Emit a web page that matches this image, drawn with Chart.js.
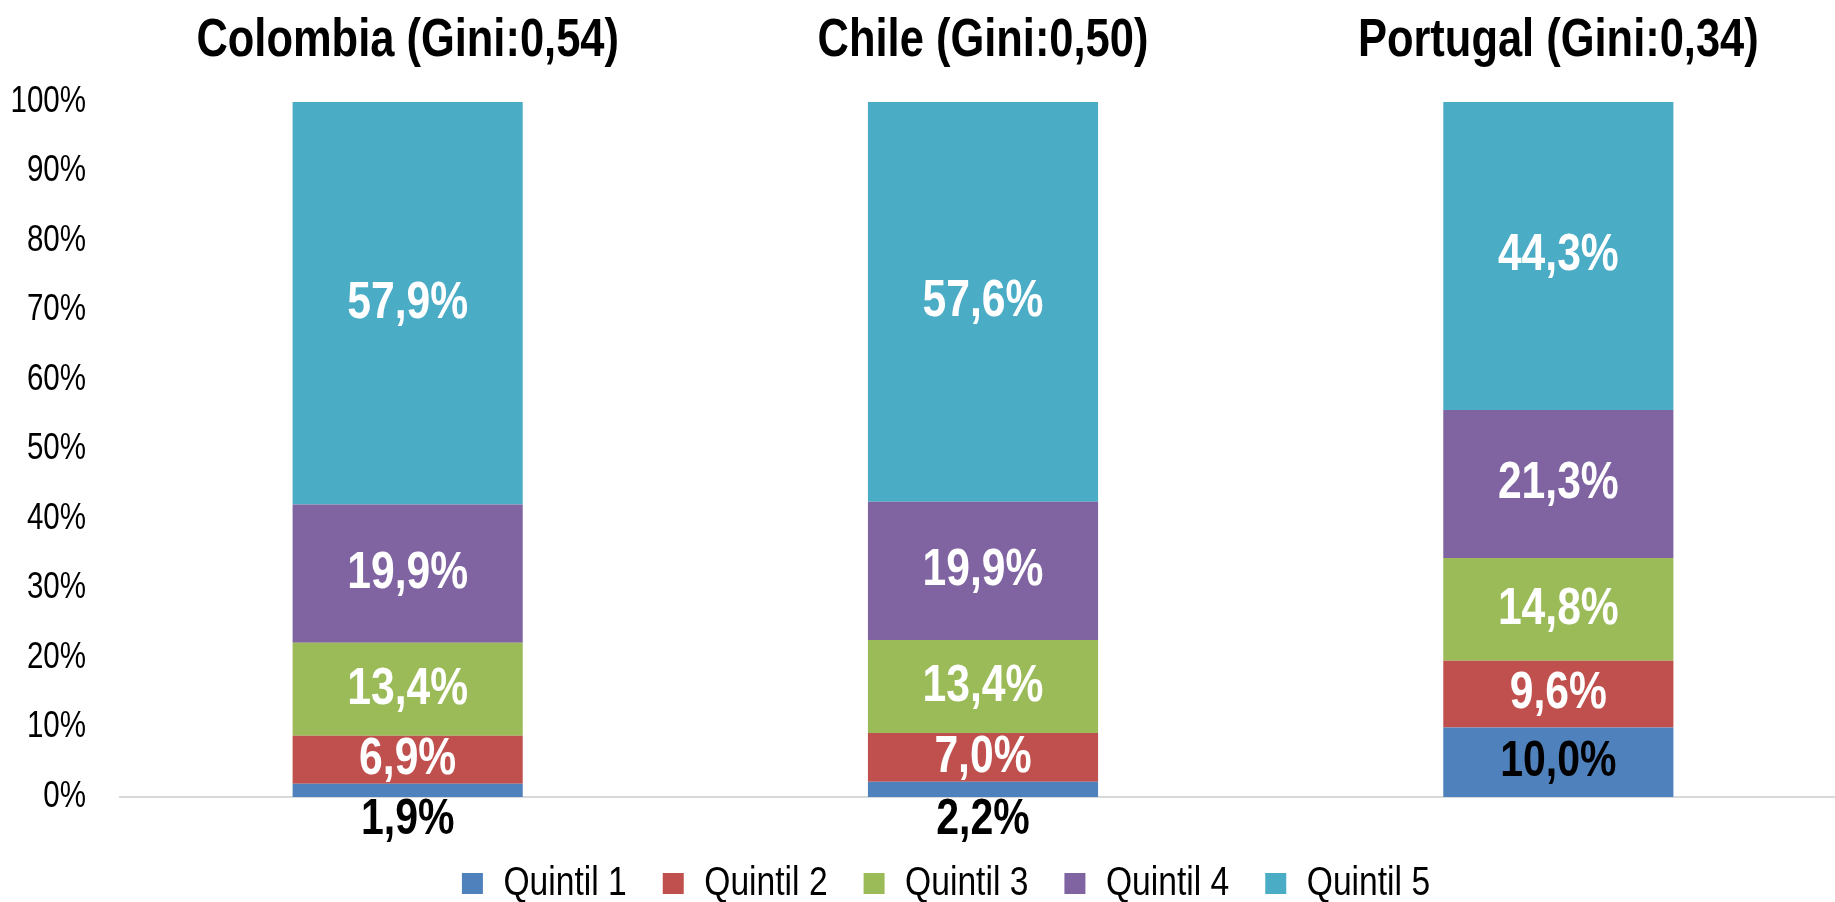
<!DOCTYPE html>
<html>
<head>
<meta charset="utf-8">
<script src="https://cdn.jsdelivr.net/npm/chart.js@4.4.1/dist/chart.umd.min.js"></script>
<style>
  html, body { margin: 0; background: #fff; overflow: hidden; }
  #wrap { width: 1846px; height: 902px; position: relative; }
</style>
</head>
<body>
<div id="wrap"><canvas id="bar-chart"></canvas></div>
<script>
var paises = ['Colombia', 'Chile', 'Portugal'];
var titulos = ['Colombia (Gini:0,54)', 'Chile (Gini:0,50)', 'Portugal (Gini:0,34)'];
var quintiles = ['Quintil 1', 'Quintil 2', 'Quintil 3', 'Quintil 4', 'Quintil 5'];
var quintil1 = [1.9, 2.2, 10.0];
var quintil2 = [6.9, 7.0, 9.6];
var quintil3 = [13.4, 13.4, 14.8];
var quintil4 = [19.9, 19.9, 21.3];
var quintil5 = [57.9, 57.6, 44.3];
var colores = ['#4F81BD', '#C0504D', '#9BBB59', '#8064A2', '#4BACC6'];

var fuente = "'Liberation Sans', Arial, sans-serif";

// no hay Arial Narrow: se estrecha el texto a mano
var estrecho = 0.82;
var proto = CanvasRenderingContext2D.prototype;
var fillOrig = proto.fillText;
var medirOrig = proto.measureText;
proto.fillText = function(t, x, y, maxW) {
    this.save();
    this.translate(x, y);
    this.scale(estrecho, 1);
    if (maxW !== undefined) fillOrig.call(this, t, 0, 0, maxW / estrecho);
    else fillOrig.call(this, t, 0, 0);
    this.restore();
};
proto.measureText = function(t) {
    var m = medirOrig.call(this, t);
    return {
        width: m.width * estrecho,
        actualBoundingBoxLeft: m.actualBoundingBoxLeft * estrecho,
        actualBoundingBoxRight: m.actualBoundingBoxRight * estrecho,
        actualBoundingBoxAscent: m.actualBoundingBoxAscent,
        actualBoundingBoxDescent: m.actualBoundingBoxDescent,
        fontBoundingBoxAscent: m.fontBoundingBoxAscent,
        fontBoundingBoxDescent: m.fontBoundingBoxDescent
    };
};

// etiquetas de valor dentro de cada tramo
var etiquetas = {
    id: 'etiquetas',
    afterLayout: function(chart) {
        // la leyenda va algo corrida a la derecha
        chart.legend.left += 23;
        chart.legend.right += 23;
    },
    afterDatasetsDraw: function(chart) {
        var ctx = chart.ctx;
        ctx.save();
        ctx.textAlign = 'center';
        ctx.textBaseline = 'middle';
        chart.data.datasets.forEach(function(ds, i) {
            var meta = chart.getDatasetMeta(i);
            meta.data.forEach(function(bar, j) {
                var p = bar.getProps(['x', 'y', 'base'], true);
                var alto = p.base - p.y;
                var texto = ds.data[j].toFixed(1).replace('.', ',') + '%';
                var y = (p.y + p.base) / 2;
                if (i === 0) {
                    ctx.fillStyle = '#000';
                    ctx.font = 'bold 50px ' + fuente;
                    if (alto < 30) y = p.base + 23;
                } else {
                    ctx.fillStyle = '#fff';
                    ctx.font = 'bold 52px ' + fuente;
                }
                ctx.fillText(texto, p.x, y);
            });
        });
        ctx.restore();
    }
};

var series = [quintil1, quintil2, quintil3, quintil4, quintil5];
var ctx = document.getElementById('bar-chart');
var chart = new Chart(ctx, {
    type: 'bar',
    data: {
        labels: paises,
        datasets: series.map(function(d, i) {
            return {
                label: quintiles[i],
                data: d,
                backgroundColor: colores[i],
                borderWidth: 0,
                barPercentage: 0.4,
                categoryPercentage: 1
            };
        })
    },
    options: {
        responsive: true,
        maintainAspectRatio: false,
        animation: false,
        layout: { padding: { left: 0, right: 0, top: 0, bottom: -12 } },
        scales: {
            x: {
                stacked: true,
                grid: { display: false, drawTicks: false },
                border: { display: true, color: '#d9d9d9', width: 2 },
                ticks: { display: false },
                afterFit: function(s) { s.height = 30; }
            },
            x2: {
                type: 'category',
                position: 'top',
                labels: titulos,
                offset: true,
                grid: { display: false, drawTicks: false },
                border: { display: false },
                ticks: {
                    color: '#000',
                    padding: 34.5,
                    font: { family: fuente, size: 53, weight: 'bold', lineHeight: 1 }
                },
                afterFit: function(s) { s.height = 102; }
            },
            y: {
                stacked: true,
                min: 0,
                max: 100,
                grid: { display: false, drawTicks: false },
                border: { display: false },
                ticks: {
                    stepSize: 10,
                    color: '#000',
                    padding: 34,
                    font: { family: fuente, size: 36 },
                    callback: function(v) { return v + '%'; }
                },
                afterFit: function(s) { s.width = 120; }
            }
        },
        plugins: {
            legend: {
                position: 'bottom',
                labels: {
                    boxWidth: 21,
                    boxHeight: 21,
                    padding: 36,
                    color: '#000',
                    font: { family: fuente, size: 41 }
                }
            },
            tooltip: { enabled: false }
        }
    },
    plugins: [etiquetas]
});
</script>
</body>
</html>
